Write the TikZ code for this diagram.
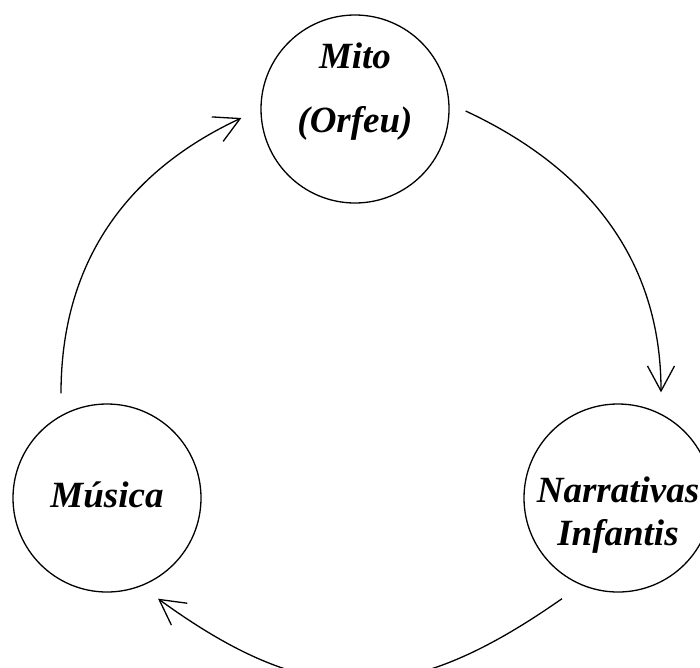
\documentclass[tikz,border=0pt]{standalone}
\usepackage{fontspec}
\setmainfont{Liberation Serif}
\usetikzlibrary{arrows.meta}
\begin{document}
\begin{tikzpicture}[x=1pt,y=1pt,
  stage/.style={circle, draw, line width=1.3pt, minimum size=188pt, inner sep=0pt,
    font=\fontsize{37}{43}\selectfont\bfseries\itshape},
  flow/.style={line width=1.3pt, -{Straight Barb[length=25pt,width=27pt]}}]
\useasboundingbox (0,0) rectangle (700,-667);
\node[stage] (mito) at (355,-109)
  {\raisebox{-23pt}[0pt][0pt]{\begin{tabular}[b]{@{}c@{}}Mito\\[21pt](Orfeu)\end{tabular}}};
\node[stage] (musica) at (107,-498)
  {\raisebox{-9pt}[0pt][0pt]{Música}};
\node[stage] (narr) at (618,-498)
  {\raisebox{-47pt}[0pt][0pt]{\begin{tabular}[b]{@{}c@{}}Narrativas\\Infantis\end{tabular}}};
\coordinate (m-out) at ([shift={(16,-2)}]mito.east);
\coordinate (n-in) at ([shift={(43,11)}]narr.north);
\coordinate (n-out) at ([shift={(-56,-6)}]narr.south);
\coordinate (mu-in) at ([shift={(51,-6)}]musica.south);
\coordinate (mu-out) at ([shift={(-46,10)}]musica.north);
\coordinate (m-in) at ([shift={(-19,-9)}]mito.west);
\draw[flow] (m-out) to[out=-25,in=90] (n-in);
\draw[flow] (n-out) to[out=215,in=-36,looseness=1.2] (mu-in);
\draw[flow] (mu-out) to[out=90,in=205] (m-in);
\end{tikzpicture}
\end{document}
